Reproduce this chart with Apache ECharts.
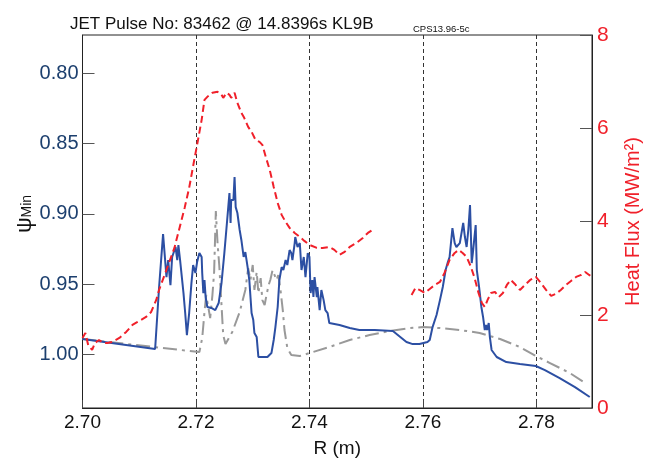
<!DOCTYPE html>
<html><head><meta charset="utf-8">
<script src="https://cdn.jsdelivr.net/npm/echarts@6/dist/echarts.min.js"></script>
<style>html,body{margin:0;padding:0;background:#fff}#c{width:660px;height:459px}</style>
</head><body><div id="c"></div>
<script>
const xTicks = ['2.70','2.72','2.74','2.76','2.78'];
const psiTicks = ['0.80','0.85','0.90','0.95','1.00'];
const heatTicks = ['0','2','4','6','8'];

const blueR = [2.7000,2.7128,2.7135,2.7142,2.7148,2.7151,2.7155,2.7158,2.7164,2.7167,2.7169,2.7172,2.7178,2.7181,2.7184,2.7188,2.7192,2.7195,2.7199,2.7202,2.7206,2.7210,2.7211,2.7213,2.7215,2.7217,2.7220,2.7227,2.7234,2.7240,2.7245,2.7250,2.7255,2.7259,2.7261,2.7262,2.7266,2.7268,2.7270,2.7273,2.7277,2.7280,2.7284,2.7287,2.7291,2.7294,2.7298,2.7301,2.7303,2.7307,2.7310,2.7319,2.7326,2.7333,2.7337,2.7340,2.7344,2.7347,2.7351,2.7354,2.7358,2.7361,2.7365,2.7368,2.7370,2.7374,2.7375,2.7379,2.7383,2.7386,2.7390,2.7393,2.7397,2.7400,2.7402,2.7405,2.7407,2.7409,2.7413,2.7414,2.7418,2.7421,2.7425,2.7428,2.7432,2.7435,2.7453,2.7471,2.7488,2.7515,2.7547,2.7571,2.7582,2.7594,2.7608,2.7612,2.7617,2.7624,2.7630,2.7635,2.7640,2.7644,2.7647,2.7652,2.7656,2.7659,2.7665,2.7671,2.7674,2.7677,2.7680,2.7683,2.7686,2.7688,2.7693,2.7695,2.7699,2.7703,2.7706,2.7709,2.7711,2.7713,2.7716,2.7718,2.7721,2.7730,2.7747,2.7771,2.7799,2.7815,2.7841,2.7868,2.7894];
const bluePsi = [0.9891,0.9962,0.9521,0.9144,0.9450,0.9329,0.9507,0.9307,0.9236,0.9329,0.9222,0.9329,0.9564,0.9706,0.9863,0.9706,0.9493,0.9364,0.9421,0.9343,0.9279,0.9307,0.9421,0.9564,0.9471,0.9592,0.9663,0.9670,0.9685,0.9635,0.9493,0.9279,0.9044,0.8852,0.9065,0.8902,0.8902,0.8738,0.8952,0.8994,0.9115,0.9186,0.9307,0.9272,0.9379,0.9471,0.9706,0.9756,0.9848,0.9877,1.0019,1.0019,1.0019,0.9991,0.9898,0.9806,0.9663,0.9471,0.9379,0.9400,0.9329,0.9364,0.9258,0.9279,0.9329,0.9208,0.9165,0.9236,0.9208,0.9400,0.9307,0.9450,0.9279,0.9307,0.9564,0.9471,0.9592,0.9450,0.9592,0.9521,0.9685,0.9542,0.9614,0.9685,0.9706,0.9777,0.9791,0.9813,0.9827,0.9827,0.9834,0.9912,0.9927,0.9927,0.9912,0.9898,0.9806,0.9720,0.9614,0.9521,0.9400,0.9343,0.9307,0.9101,0.9208,0.9236,0.9208,0.9065,0.9165,0.9236,0.9115,0.8937,0.9350,0.9279,0.9080,0.9400,0.9521,0.9663,0.9734,0.9827,0.9791,0.9827,0.9777,0.9877,0.9969,1.0019,1.0055,1.0069,1.0083,1.0112,1.0169,1.0233,1.0304];

const grayR = [2.7000,2.7206,2.7211,2.7215,2.7218,2.7222,2.7225,2.7229,2.7232,2.7235,2.7238,2.7241,2.7245,2.7248,2.7252,2.7264,2.7277,2.7287,2.7292,2.7296,2.7300,2.7303,2.7307,2.7310,2.7314,2.7317,2.7321,2.7324,2.7328,2.7331,2.7335,2.7338,2.7342,2.7345,2.7349,2.7353,2.7356,2.7361,2.7368,2.7383,2.7400,2.7435,2.7471,2.7506,2.7541,2.7577,2.7600,2.7630,2.7665,2.7700,2.7736,2.7771,2.7799,2.7824,2.7859,2.7886];
const grayPsi = [0.9891,0.9984,0.9884,0.9699,0.9578,0.9670,0.9742,0.9578,0.9414,0.8980,0.9208,0.9364,0.9649,0.9863,0.9927,0.9841,0.9699,0.9542,0.9386,0.9471,0.9364,0.9542,0.9414,0.9564,0.9457,0.9614,0.9649,0.9585,0.9507,0.9471,0.9400,0.9386,0.9471,0.9436,0.9542,0.9685,0.9827,0.9955,1.0005,1.0012,0.9991,0.9948,0.9898,0.9863,0.9834,0.9813,0.9806,0.9813,0.9827,0.9848,0.9891,0.9948,1.0012,1.0062,1.0133,1.0204];

const heatR1 = [2.7000,2.7005,2.7010,2.7017,2.7022,2.7029,2.7037,2.7044,2.7052,2.7065,2.7077,2.7088,2.7097,2.7112,2.7121,2.7130,2.7135,2.7144,2.7153,2.7162,2.7171,2.7180,2.7188,2.7197,2.7202,2.7210,2.7215,2.7220,2.7229,2.7238,2.7245,2.7248,2.7254,2.7259,2.7262,2.7268,2.7273,2.7280,2.7285,2.7292,2.7298,2.7305,2.7312,2.7317,2.7323,2.7330,2.7337,2.7344,2.7351,2.7358,2.7365,2.7374,2.7383,2.7391,2.7400,2.7413,2.7423,2.7435,2.7444,2.7453,2.7462,2.7471,2.7483,2.7494,2.7503,2.7511];
const heat1 = [1.502,1.609,1.352,1.245,1.395,1.459,1.395,1.395,1.416,1.502,1.631,1.781,1.845,1.953,2.060,2.318,2.532,2.833,3.133,3.433,3.863,4.292,4.721,5.322,5.644,6.180,6.609,6.674,6.760,6.781,6.717,6.652,6.760,6.717,6.652,6.760,6.545,6.330,6.223,6.030,5.923,5.751,5.708,5.644,5.386,5.107,4.742,4.399,4.142,3.991,3.863,3.755,3.670,3.584,3.498,3.433,3.433,3.455,3.391,3.283,3.348,3.455,3.541,3.648,3.755,3.820];
const heatR2 = [2.7580,2.7587,2.7594,2.7603,2.7612,2.7621,2.7630,2.7638,2.7647,2.7656,2.7663,2.7670,2.7677,2.7684,2.7691,2.7698,2.7704,2.7709,2.7714,2.7720,2.7727,2.7734,2.7741,2.7748,2.7755,2.7762,2.7771,2.7780,2.7789,2.7799,2.7808,2.7817,2.7826,2.7834,2.7843,2.7852,2.7861,2.7870,2.7879,2.7886,2.7893,2.7898];
const heat2 = [2.425,2.575,2.532,2.468,2.554,2.639,2.704,2.897,3.176,3.326,3.391,3.326,3.240,3.047,2.790,2.468,2.253,2.167,2.318,2.468,2.489,2.382,2.468,2.639,2.747,2.661,2.532,2.639,2.747,2.811,2.682,2.532,2.403,2.446,2.532,2.639,2.725,2.811,2.854,2.918,2.854,2.811];

const zip = (a, b) => a.map((v, i) => [v, b[i]]);
const FONT = 'Liberation Sans, Arial, sans-serif';
const RED = '#f0202a';
const BLUE = '#2c4fa3';
const NAVY = '#1c3f6e';

const chart = echarts.init(document.getElementById('c'), null, {renderer: 'canvas'});
chart.setOption({
  animation: false,
  backgroundColor: '#fff',
  textStyle: {fontFamily: FONT},
  title: [
    {text: 'JET Pulse No: 83462 @ 14.8396s KL9B', left: 65, top: 11,
     textStyle: {fontSize: 17, fontWeight: 'normal', color: '#111', fontFamily: FONT}},
    {text: 'CPS13.96-5c', left: 408, top: 19,
     textStyle: {fontSize: 9.5, fontWeight: 'normal', color: '#111', fontFamily: FONT}}
  ],
  graphic: [{
    type: 'text', x: 24, y: 214, rotation: Math.PI / 2,
    style: {
      text: '{p|ψ}{s|Min}', align: 'center', verticalAlign: 'middle',
      rich: {
        p: {fontSize: 22, fontFamily: FONT, fill: '#111', lineHeight: 24, verticalAlign: 'bottom'},
        s: {fontSize: 14, fontFamily: FONT, fill: '#111', lineHeight: 24, verticalAlign: 'bottom', padding: [0,0,2,0]}
      }
    }
  }],
  grid: {left: 82.5, right: 68, top: 35, bottom: 51, containLabel: false, outerBoundsMode: 'none',
    show: true, borderColor: '#222', borderWidth: 1, backgroundColor: 'transparent'},
  xAxis: {
    type: 'value', min: 2.70, max: 2.7898, interval: 0.02,
    name: 'R (m)', nameLocation: 'middle', nameGap: 31,
    nameTextStyle: {fontSize: 19, color: '#111', fontFamily: FONT},
    axisLine: {lineStyle: {color: '#222'}},
    axisTick: {inside: true, length: 8, lineStyle: {color: '#444'}},
    axisLabel: {fontSize: 19, color: '#111', margin: 5, showMaxLabel: false,
      formatter: v => { const s = v.toFixed(2); return xTicks.includes(s) ? s : ''; }},
    splitLine: {show: true, lineStyle: {color: '#333', type: [4, 3], width: 1}}
  },
  yAxis: [
    {
      type: 'value', inverse: true, min: 0.7727, max: 1.0382, minInterval: 0.05, maxInterval: 0.05,
      position: 'left',
      axisLine: {show: true, lineStyle: {color: '#222'}},
      axisTick: {show: true, inside: true, length: 12, lineStyle: {color: '#555'}},
      axisLabel: {fontSize: 20, color: NAVY, margin: 4, showMinLabel: false, showMaxLabel: false,
        formatter: v => { const s = v.toFixed(2); return psiTicks.includes(s) ? s : ''; }},
      splitLine: {show: false}
    },
    {
      type: 'value', min: 0, max: 8, interval: 2, position: 'right',
      name: 'Heat Flux (MW/m²)', nameLocation: 'middle', nameGap: 31, nameRotate: 90,
      nameTextStyle: {fontSize: 20, color: RED, fontFamily: FONT},
      axisLine: {show: true, lineStyle: {color: '#222'}},
      axisTick: {show: true, inside: true, length: 12, lineStyle: {color: '#555'}},
      axisLabel: {fontSize: 21, color: RED, margin: 5,
        formatter: v => { const s = String(Math.round(v)); return heatTicks.includes(s) ? s : ''; }},
      splitLine: {show: false}
    }
  ],
  series: [
    {type: 'line', yAxisIndex: 0, data: zip(grayR, grayPsi), showSymbol: false, symbol: 'none',
     lineStyle: {color: '#999', width: 2, type: [14, 5, 3, 5]}, z: 2},
    {type: 'line', yAxisIndex: 0, data: zip(blueR, bluePsi), showSymbol: false, symbol: 'none',
     lineStyle: {color: BLUE, width: 2}, z: 3},
    {type: 'line', yAxisIndex: 1, data: zip(heatR1, heat1), showSymbol: false, symbol: 'none',
     lineStyle: {color: RED, width: 2, type: [7, 4]}, z: 4},
    {type: 'line', yAxisIndex: 1, data: zip(heatR2, heat2), showSymbol: false, symbol: 'none',
     lineStyle: {color: RED, width: 2, type: [7, 4]}, z: 4}
  ]
});
</script>
</body></html>
